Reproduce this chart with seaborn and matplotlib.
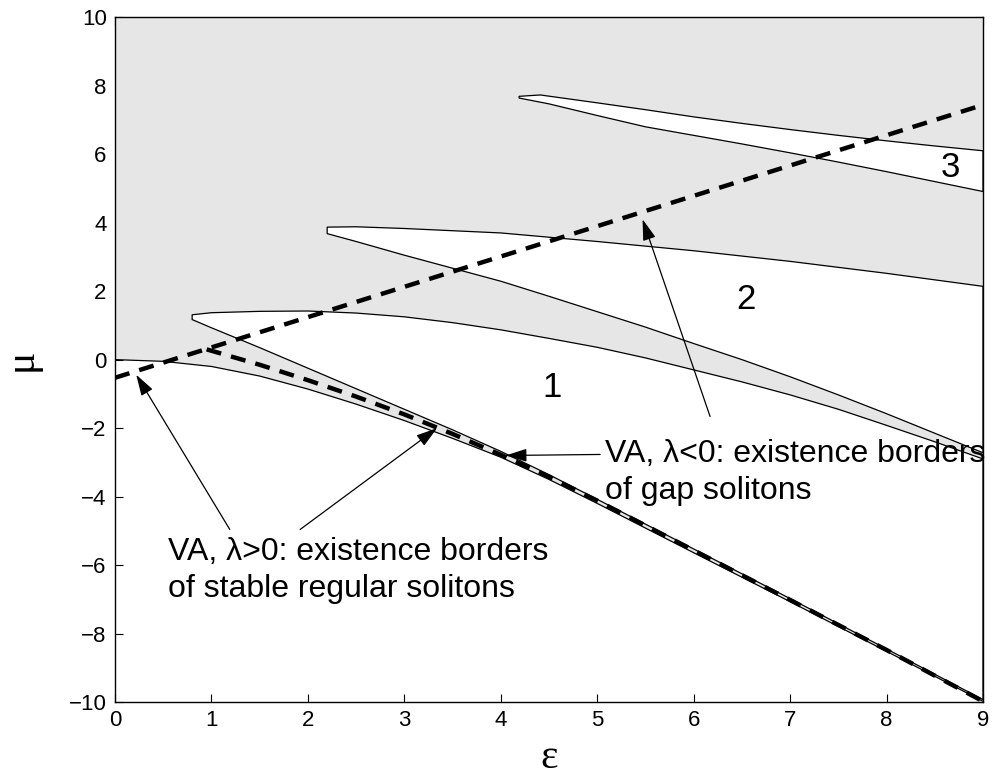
import numpy as np
import pandas as pd
import matplotlib
matplotlib.use("Agg")
import matplotlib.pyplot as plt
import seaborn as sns

# ---------------- data ----------------
# lower edge of the first band (edge of the semi-infinite gap)
eps_L0 = [0, 0.5, 1, 1.5, 2, 2.5, 3, 3.5, 4, 4.5, 5, 6, 7, 8, 9]
mu_L0 = [0, -0.05, -0.2, -0.48, -0.86, -1.3, -1.78, -2.3, -2.85, -3.5, -4.2, -5.64, -7.07, -8.52, -9.98]

# gap 1 (white tongue), lower and upper edges
eps_g1_lo = [0.8, 1, 1.5, 2, 2.5, 3, 3.5, 4, 4.5, 5, 6, 7, 8, 9]
mu_g1_lo = [1.17, 0.93, 0.35, -0.25, -0.85, -1.45, -2.05, -2.68, -3.36, -4.08, -5.53, -6.98, -8.45, -9.93]
eps_g1_up = [0.8, 1, 1.5, 2, 2.5, 3, 3.5, 4, 4.5, 5, 5.5, 6, 6.5, 7, 7.5, 8, 8.5, 9]
mu_g1_up = [1.31, 1.37, 1.41, 1.42, 1.36, 1.25, 1.08, 0.87, 0.62, 0.36, 0.05, -0.3, -0.65, -1.03, -1.45, -1.92, -2.4, -2.9]

# gap 2
eps_g2_lo = [2.2, 2.5, 3, 3.5, 4, 4.5, 5, 5.5, 6, 6.5, 7, 7.5, 8, 8.5, 9]
mu_g2_lo = [3.68, 3.45, 3.05, 2.67, 2.29, 1.85, 1.4, 0.95, 0.47, 0.0, -0.5, -1.03, -1.58, -2.15, -2.72]
eps_g2_up = [2.2, 2.5, 3, 4, 5, 6, 7, 8, 9]
mu_g2_up = [3.87, 3.88, 3.83, 3.7, 3.45, 3.18, 2.87, 2.52, 2.14]

# gap 3
eps_g3_lo = [4.19, 4.5, 5, 5.5, 6, 6.5, 7, 7.5, 8, 8.5, 9]
mu_g3_lo = [7.64, 7.47, 7.13, 6.8, 6.55, 6.3, 6.04, 5.77, 5.49, 5.2, 4.91]
eps_g3_up = [4.19, 4.41, 5, 5.5, 6, 6.5, 7, 7.5, 8, 8.5, 9]
mu_g3_up = [7.69, 7.73, 7.5, 7.3, 7.09, 6.9, 6.72, 6.55, 6.39, 6.24, 6.1]

# variational approximation (dashed)
eps_va_a = [0, 9]
mu_va_a = [-0.53, 7.44]
eps_va_b = [0.95, 1.5, 2, 2.5, 3, 3.5, 4, 4.5, 5, 6, 7, 8, 9]
mu_va_b = [0.3, -0.15, -0.6, -1.08, -1.6, -2.17, -2.78, -3.42, -4.12, -5.57, -7.02, -8.48, -9.98]

xticks = list(range(0, 10))
yticks = list(range(-10, 11, 2))

gap_labels = ["1", "2", "3"]
gap_label_pos = [(4.53, -0.82), (6.54, 1.75), (8.66, 5.62)]

text_neg = "VA, \u03bb<0: existence borders\nof gap solitons"
text_pos = "VA, \u03bb>0: existence borders\nof stable regular solitons"

# ---------------- style ----------------
sns.set_theme(style="ticks")
plt.rcParams["font.family"] = ["Liberation Sans", "DejaVu Sans"]
plt.rcParams["axes.unicode_minus"] = True
for k in ["text.color", "axes.labelcolor", "xtick.color", "ytick.color", "axes.edgecolor"]:
    plt.rcParams[k] = "black"

fig = plt.figure(figsize=(10, 7.84), dpi=100)
ax = fig.add_axes([0.115, 0.1046, 0.868, 0.8734])

GRAY = "#e6e6e6"

# gray bands: everything above the lower band edge
band_x = eps_L0 + [9, 0]
band_y = mu_L0 + [10, 10]
ax.fill(band_x, band_y, color=GRAY, lw=0, zorder=1)

# white gaps (tongues)
for xl, yl, xu, yu in [(eps_g1_lo, mu_g1_lo, eps_g1_up, mu_g1_up),
                       (eps_g2_lo, mu_g2_lo, eps_g2_up, mu_g2_up),
                       (eps_g3_lo, mu_g3_lo, eps_g3_up, mu_g3_up)]:
    px = list(xl) + list(xu[::-1])
    py = list(yl) + list(yu[::-1])
    ax.fill(px, py, facecolor="white", edgecolor="black", lw=0.9, zorder=2)

sns.lineplot(x=eps_L0, y=mu_L0, color="black", lw=0.9, ax=ax, zorder=3, sort=False)

# dashed VA lines
for xs, ys in [(eps_va_a, mu_va_a), (eps_va_b, mu_va_b)]:
    sns.lineplot(x=xs, y=ys, color="black", lw=3.2, ax=ax, zorder=4, sort=False,
                 linestyle=(0, (3.4, 2.3)))

# gap numbers
for lab, (gx, gy) in zip(gap_labels, gap_label_pos):
    ax.text(gx, gy, lab, fontsize=25, ha="center", va="center", zorder=6, color="black")

# annotations
ax.text(5.08, -3.3, text_neg, fontsize=23, ha="left", va="center",
        linespacing=1.3, zorder=6, color="black")
ax.text(0.55, -6.15, text_pos, fontsize=23, ha="left", va="center",
        linespacing=1.3, zorder=6, color="black")

arrows = [((5.03, -2.77), (4.05, -2.80)),
          ((6.17, -1.66), (5.47, 4.10)),
          ((1.19, -4.96), (0.22, -0.44)),
          ((1.92, -4.96), (3.34, -2.00))]
for tail, tip in arrows:
    ax.annotate("", xy=tip, xytext=tail, zorder=7,
                arrowprops=dict(arrowstyle="-|>,head_length=0.65,head_width=0.2",
                                color="black", lw=0.9, mutation_scale=20,
                                shrinkA=0, shrinkB=0))

ax.set_xlim(0, 9)
ax.set_ylim(-10, 10)
ax.set_xticks(xticks)
ax.set_yticks(yticks)
ax.tick_params(direction="in", length=6, width=0.8, top=True, right=True,
               labelsize=16, colors="black", pad=6)
for s in ax.spines.values():
    s.set_visible(True)
    s.set_color("black")
    s.set_linewidth(1.0)
    s.set_zorder(8)

ax.set_xlabel("\u03b5", fontsize=30, family=["Liberation Serif", "DejaVu Serif"], labelpad=5)
ax.set_ylabel("\u03bc", fontsize=30, family=["Liberation Serif", "DejaVu Serif"], labelpad=20)
ax.set_facecolor("white")

fig.savefig("out.png", dpi=100)
